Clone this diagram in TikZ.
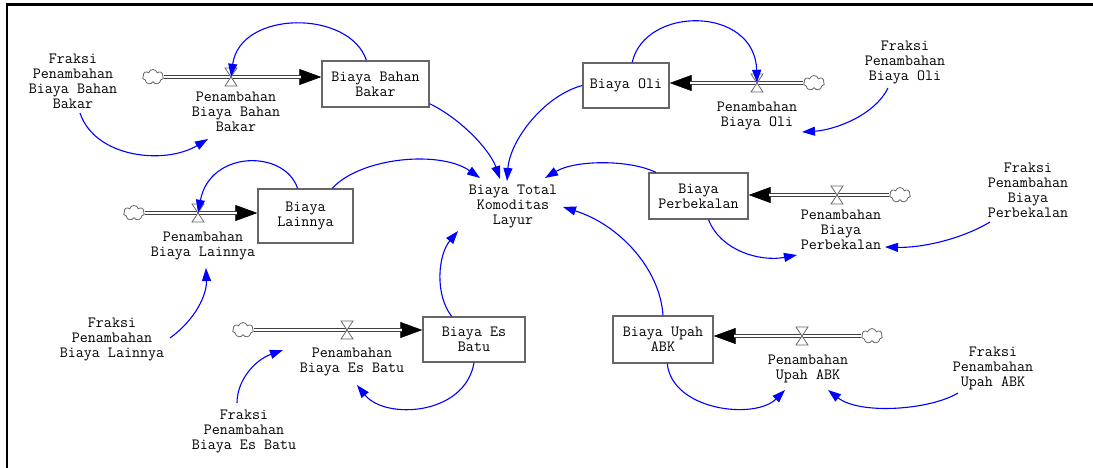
\documentclass[tikz,border=0pt]{standalone}
\usepackage{fontspec}
\usepackage{tikz}
\usetikzlibrary{
    arrows.meta,
    shapes.symbols,
    calc
}

\begin{document}
\begin{tikzpicture}[
    x=1pt, y=-1pt,
    every node/.style={font=\ttfamily\fontsize{15.6}{15}\selectfont, align=center, inner sep=0pt},
    stock/.style={draw=black!60, line width=1.4pt, fill=white, minimum height=46pt},
    source/.style={cloud, cloud puffs=7, cloud ignores aspect, draw=black!60, line width=0.8pt, fill=white, minimum width=21pt, minimum height=15pt},
    valvept/.style={inner sep=0pt, minimum size=0pt},
    valve/.pic={\draw[draw=black!60, line width=0.8pt, fill=white] (-6,-9) -- (6,-9) -- (-6,9) -- (6,9) -- cycle;},
    pipe/.style={draw=black!75, line width=1.2pt, double=white, double distance=2.4pt, shorten >=20pt},
    pipetip/.style={draw=black, line width=0.5pt, -{Triangle[length=22pt,width=16pt]}},
    infl/.style={draw=blue, line width=1.1pt, -{Triangle[length=13pt,width=9pt]}},
    frame/.style={line width=2.2pt, black}
]

\useasboundingbox (0,0) rectangle (1093,468);
\draw[frame] (7,468) -- (7,4.5) -- (1093,4.5);

% ==================== STOCKS ====================
\node[stock, minimum width=107pt] (bbb) at (375.5,84) {Biaya Bahan\\Bakar};
\node[stock, minimum width=86pt, minimum height=45pt] (oli) at (626,85.5) {Biaya Oli};
\node[stock, minimum width=95pt, minimum height=54pt] (lain) at (305.5,216) {Biaya\\Lainnya};
\node[stock, minimum width=102pt, minimum height=45pt] (es) at (474,339.5) {Biaya Es\\Batu};
\node[stock, minimum width=100pt, minimum height=47pt] (abk) at (663,339.5) {Biaya Upah\\ABK};
\node[stock, minimum width=99pt] (per) at (698.5,196) {Biaya\\Perbekalan};

\node (tot) at (513,207) {Biaya Total\\Komoditas\\Layur};

% ==================== SOURCES AND VALVES ====================
\node[source] (cbbb) at (153,77) {};
\node[source] (coli) at (814,83) {};
\node[source] (clain) at (134,213) {};
\node[source] (ces) at (243,330) {};
\node[source] (cabk) at (872,336) {};
\node[source] (cper) at (900,195) {};

\node[valvept] (vbbb) at (231,77) {};
\node[valvept] (voli) at (757,83) {};
\node[valvept] (vlain) at (198,213) {};
\node[valvept] (ves) at (347,330) {};
\node[valvept] (vabk) at (802,336) {};
\node[valvept] (vper) at (837,195) {};

% flow labels
\node (lbbb) at (236,111.5) {Penambahan\\Biaya Bahan\\Bakar};
\node (loli) at (757,116.5) {Penambahan\\Biaya Oli};
\node (llain) at (203,246) {Penambahan\\Biaya Lainnya};
\node (les) at (352,362) {Penambahan\\Biaya Es Batu};
\node (labk) at (808,368.5) {Penambahan\\Upah ABK};
\node (lper) at (841,230) {Penambahan\\Biaya\\Perbekalan};

% fractions
\node (fbbb) at (73,81) {Fraksi\\Penambahan\\Biaya Bahan\\Bakar};
\node (foli) at (905,62.5) {Fraksi\\Penambahan\\Biaya Oli};
\node (flain) at (112,340) {Fraksi\\Penambahan\\Biaya Lainnya};
\node (fes) at (244,431.5) {Fraksi\\Penambahan\\Biaya Es Batu};
\node (fabk) at (993,368) {Fraksi\\Penambahan\\Upah ABK};
\node (fper) at (1028,190) {Fraksi\\Penambahan\\Biaya\\Perbekalan};

% ==================== FLOW PIPES ====================
\draw[pipetip] (cbbb.east) -- (bbb.west |- cbbb.east);
\draw[pipe] (cbbb.east) -- (bbb.west |- cbbb.east);
\draw[pipetip] (coli.west) -- (oli.east |- coli.west);
\draw[pipe] (coli.west) -- (oli.east |- coli.west);
\draw[pipetip] (clain.east) -- (lain.west |- clain.east);
\draw[pipe] (clain.east) -- (lain.west |- clain.east);
\draw[pipetip] (ces.east) -- (es.west |- ces.east);
\draw[pipe] (ces.east) -- (es.west |- ces.east);
\draw[pipetip] (cabk.west) -- (abk.east |- cabk.west);
\draw[pipe] (cabk.west) -- (abk.east |- cabk.west);
\draw[pipetip] (cper.west) -- (per.east |- cper.west);
\draw[pipe] (cper.west) -- (per.east |- cper.west);

\pic at (vbbb) {valve};
\pic at (voli) {valve};
\pic at (vlain) {valve};
\pic at (ves) {valve};
\pic at (vabk) {valve};
\pic at (vper) {valve};

% ==================== INFLUENCE LINKS ====================
\draw[infl] (bbb.111) .. controls +(-17,-51) and +(9,-67) .. (vbbb);
\draw[infl] ([shift={(7,32)}]fbbb.center) .. controls +(15,45) and +(-43,26) .. ([shift={(-28,27.5)}]lbbb.center);
\draw[infl] (bbb.-20) .. controls +(31,15) and +(-10,-29) .. ([shift={(-13,-28)}]tot.center);

\draw[infl] (oli.75) .. controls +(13,-57) and +(-2,-77) .. (voli);
\draw[infl] ([shift={(-17,25.5)}]foli.center) .. controls +(-13,27) and +(33,-2) .. ([shift={(45,15.5)}]loli.center);
\draw[infl] (oli.west) .. controls +(-38,10) and +(3,-41) .. ([shift={(-6,-26)}]tot.center);

\draw[infl] (lain.106) .. controls +(-13,-39) and +(12,-63) .. (vlain);
\draw[infl] (lain.46) .. controls +(28.5,-31) and +(-40,-28) .. ([shift={(-33,-29)}]tot.center);
\draw[infl] ([shift={(58,-2)}]flain.center) .. controls +(25,-18) and +(1,27) .. ([shift={(3,22)}]llain.center);

\draw[infl] (es.south) .. controls +(-9,53) and +(28,35) .. ([shift={(5,23)}]les.center);
\draw[infl] (es.134) .. controls +(-17,-22) and +(-20,24) .. ([shift={(-55,24)}]tot.center);
\draw[infl] ([shift={(-7,-28.5)}]fes.center) .. controls +(0,-23) and +(-28,10) .. ([shift={(-69,-12)}]les.center);

\draw[infl] (abk.-80) .. controls +(5,47) and +(-30,30) .. ([shift={(-23,21.5)}]labk.center);
\draw[infl] ([shift={(-35,25)}]fabk.center) .. controls +(-28,17) and +(32,25) .. ([shift={(20,21.5)}]labk.center);
\draw[infl] (abk.north) .. controls +(-3,-46) and +(57,18) .. ([shift={(50,0)}]tot.center);

\draw[infl] (per.-67) .. controls +(12,31) and +(-37,7) .. ([shift={(-44,25)}]lper.center);
\draw[infl] ([shift={(-38,32)}]fper.center) .. controls +(-30,18) and +(35,1) .. ([shift={(44,17)}]lper.center);
\draw[infl] (per.151) .. controls +(-27,-13) and +(30,-18) .. ([shift={(32,-29)}]tot.center);

\end{tikzpicture}
\end{document}
